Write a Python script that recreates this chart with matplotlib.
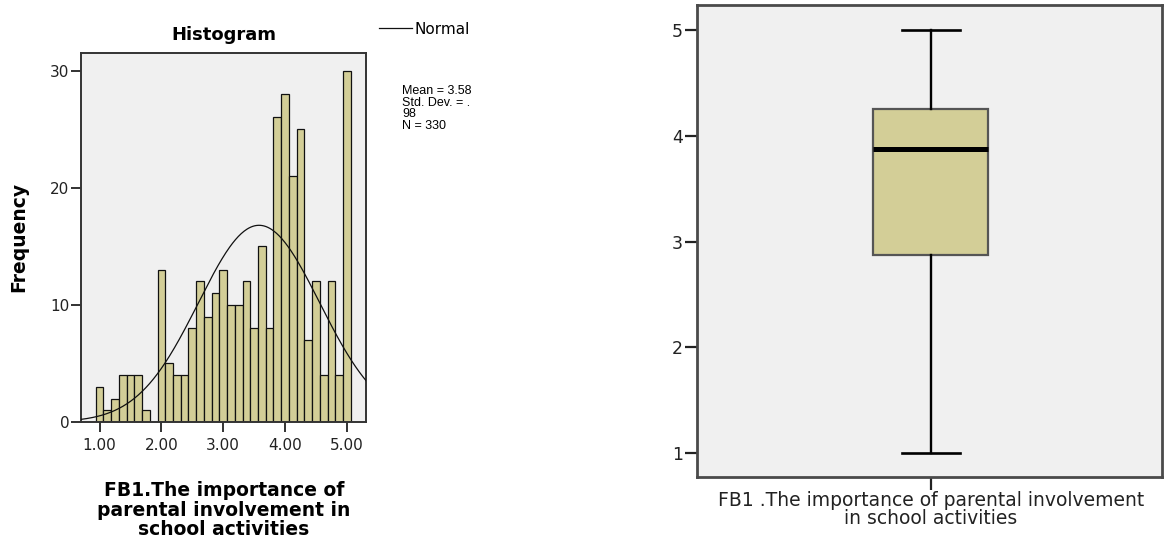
import numpy as np
import matplotlib
matplotlib.use("Agg")
import matplotlib.pyplot as plt

plt.rcParams["font.family"] = ["DejaVu Sans"]

# ---- histogram data (bin centres, counts) ----
bin_centers = [1.0 + 0.125 * i for i in range(33)]
counts = [3, 1, 2, 4, 4, 4, 1, 0, 13, 5, 4, 4, 8, 12, 9, 11, 13,
          10, 10, 12, 8, 15, 8, 26, 28, 21, 25, 7, 12, 4, 12, 4, 30]
bin_width = 0.125
mean_val = 3.58
std_val = 0.98
n_obs = 330
hist_xticks = [1.0, 2.0, 3.0, 4.0, 5.0]
hist_yticks = [0, 10, 20, 30]

# ---- box plot summary ----
box_stats = {"whislo": 1.0, "q1": 2.875, "med": 3.875, "q3": 4.25, "whishi": 5.0}
box_yticks = [1, 2, 3, 4, 5]

hist_xlabel = "FB1.The importance of\nparental involvement in\nschool activities"
box_xlabel = "FB1 .The importance of parental involvement\nin school activities"

TAN = "#D3CE97"
BG = "#F0F0F0"

fig = plt.figure(figsize=(11.64, 5.48), dpi=100)
W, H = 1164, 548

# ---- Histogram ----
ax1 = fig.add_axes([81 / W, 1 - 422 / H, (366 - 81) / W, (422 - 53) / H])
ax1.set_facecolor(BG)
ax1.bar(bin_centers, counts, width=bin_width, color=TAN,
        edgecolor="#111111", linewidth=0.9, zorder=2)
xs = np.linspace(0.7, 5.31, 300)
ys = n_obs * bin_width / (std_val * np.sqrt(2 * np.pi)) * \
    np.exp(-0.5 * ((xs - mean_val) / std_val) ** 2)
line, = ax1.plot(xs, ys, color="#111111", linewidth=0.9, zorder=3)
ax1.set_xlim(0.7, 5.31)
ax1.set_ylim(0, 31.5)
ax1.set_xticks(hist_xticks)
ax1.set_xticklabels([f"{t:.2f}" for t in hist_xticks])
ax1.set_yticks(hist_yticks)
ax1.tick_params(labelsize=11, length=7.5, width=1.3, direction="out",
                colors="#222222")
ax1.tick_params(axis="y", pad=1)
ax1.tick_params(axis="x", pad=4)
for s in ax1.spines.values():
    s.set_color("#333333")
    s.set_linewidth(1.4)
ax1.set_title("Histogram", fontsize=13, fontweight="bold", pad=9)
fig.text(19 / W, 1 - 237 / H, "Frequency", rotation=90, fontsize=13.5,
         fontweight="bold", ha="center", va="center")
fig.text(224 / W, 1 - 510 / H, hist_xlabel, fontsize=13.5, fontweight="bold",
         ha="center", va="center", linespacing=1.05)

fig.legend([line], ["Normal"], loc="center left",
           bbox_to_anchor=(371 / W, 1 - 29 / H), frameon=False,
           fontsize=11, handlelength=2.2, handletextpad=0.15, borderpad=0)
fig.text(402 / W, 1 - 85 / H,
         f"Mean = {mean_val:.2f}\nStd. Dev. = .\n{int(std_val * 100)}\nN = {n_obs}",
         fontsize=9, va="top", ha="left", linespacing=0.95,
         family=["Liberation Sans Narrow", "Liberation Sans", "DejaVu Sans"])

# ---- Box plot ----
ax2 = fig.add_axes([697 / W, 1 - 477 / H, (1162 - 697) / W, (477 - 5) / H])
ax2.set_facecolor(BG)
stats = dict(box_stats)
stats["fliers"] = []
ax2.bxp([stats], positions=[1], widths=0.5, patch_artist=True,
        showfliers=False,
        boxprops=dict(facecolor=TAN, edgecolor="#555555", linewidth=1.6),
        medianprops=dict(color="black", linewidth=3.6),
        whiskerprops=dict(color="black", linewidth=1.7),
        capprops=dict(color="black", linewidth=1.9),
        capwidths=0.25)
ax2.set_xlim(-0.01, 2)
ax2.set_ylim(0.776, 5.236)
ax2.set_yticks(box_yticks)
ax2.set_xticks([1])
ax2.set_xticklabels([box_xlabel])
ax2.tick_params(labelsize=13.5, length=9, width=1.6, direction="out",
                colors="#222222", pad=1)
ax2.tick_params(axis="y", labelsize=12.5)
for s in ax2.spines.values():
    s.set_color("#4a4a4a")
    s.set_linewidth(2)
for lab in ax2.get_xticklabels():
    lab.set_linespacing(0.95)

fig.savefig("out.png", dpi=100, facecolor="white")
